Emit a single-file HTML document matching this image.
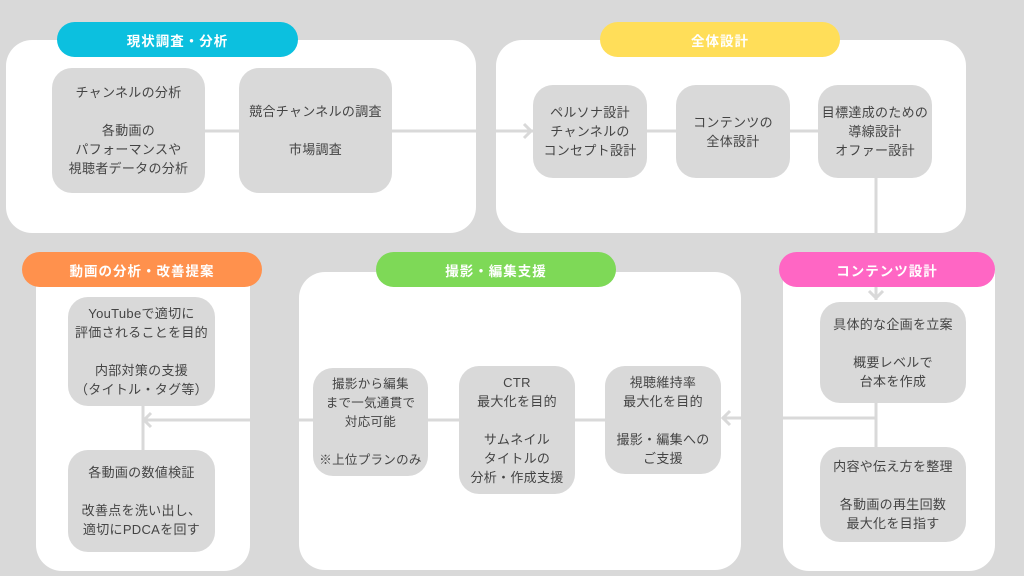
<!DOCTYPE html>
<html><head><meta charset="utf-8"><style>
body{margin:0;width:1024px;height:576px;background:#d9d9d9;position:relative;overflow:hidden;font-family:"Liberation Sans","Noto Sans CJK JP",sans-serif}
.p{position:absolute;background:#fff;border-radius:26px}
.pill{position:absolute;border-radius:18px;color:#fff;font-weight:bold;font-size:13.5px;display:flex;align-items:center;justify-content:center;height:35px;letter-spacing:1px}
.b{position:absolute;background:#d9d9d9;border-radius:20px;color:#444;font-size:13px;line-height:19px;text-align:center;display:flex;align-items:center;justify-content:center;letter-spacing:0.3px}
svg{position:absolute;left:0;top:0}
</style></head><body>
<div class="p" style="left:6px;top:40px;width:470px;height:193px"></div>
<div class="p" style="left:496px;top:40px;width:470px;height:193px"></div>
<div class="p" style="left:36px;top:270px;width:214px;height:301px;border-radius:0 0 26px 26px"></div>
<div class="p" style="left:299px;top:272px;width:442px;height:298px"></div>
<div class="p" style="left:783px;top:270px;width:212px;height:301px;border-radius:0 0 26px 26px"></div>
<svg width="1024" height="576"><g stroke="#d9d9d9" stroke-width="3" fill="none">
<line x1="205" y1="131" x2="239" y2="131"/><line x1="392" y1="131" x2="533" y2="131"/>
<polyline points="524,124 531,131 524,138"/>
<line x1="647" y1="131" x2="676" y2="131"/><line x1="790" y1="131" x2="818" y2="131"/>
<line x1="876" y1="178" x2="876" y2="300"/><polyline points="869,291 876,298 883,291"/>
<line x1="876" y1="403" x2="876" y2="447"/><line x1="876" y1="418" x2="722" y2="418"/>
<polyline points="730,411 723,418 730,425"/>
<line x1="575" y1="420" x2="605" y2="420"/><line x1="428" y1="420" x2="459" y2="420"/>
<line x1="313" y1="420" x2="143" y2="420"/><polyline points="151,413 144,420 151,427"/>
<line x1="143" y1="406" x2="143" y2="450"/>
</g></svg>
<div class="pill" style="left:57px;top:22px;width:241px;background:#0cc0df">現状調査・分析</div>
<div class="pill" style="left:600px;top:22px;width:240px;background:#ffde59;color:#fff">全体設計</div>
<div class="pill" style="left:22px;top:252px;width:240px;background:#ff914d">動画の分析・改善提案</div>
<div class="pill" style="left:376px;top:252px;width:240px;background:#7ed957">撮影・編集支援</div>
<div class="pill" style="left:779px;top:252px;width:216px;background:#ff66c4">コンテンツ設計</div>
<div class="b" style="left:52px;top:68px;width:153px;height:125px">チャンネルの分析<br><br>各動画の<br>パフォーマンスや<br>視聴者データの分析</div>
<div class="b" style="left:239px;top:68px;width:153px;height:125px">競合チャンネルの調査<br><br>市場調査</div>
<div class="b" style="left:533px;top:85px;width:114px;height:93px">ペルソナ設計<br>チャンネルの<br>コンセプト設計</div>
<div class="b" style="left:676px;top:85px;width:114px;height:93px">コンテンツの<br>全体設計</div>
<div class="b" style="left:818px;top:85px;width:114px;height:93px">目標達成のための<br>導線設計<br>オファー設計</div>
<div class="b" style="left:820px;top:302px;width:146px;height:101px">具体的な企画を立案<br><br>概要レベルで<br>台本を作成</div>
<div class="b" style="left:820px;top:447px;width:146px;height:95px">内容や伝え方を整理<br><br>各動画の再生回数<br>最大化を目指す</div>
<div class="b" style="left:605px;top:366px;width:116px;height:108px">視聴維持率<br>最大化を目的<br><br>撮影・編集への<br>ご支援</div>
<div class="b" style="left:459px;top:366px;width:116px;height:128px">CTR<br>最大化を目的<br><br>サムネイル<br>タイトルの<br>分析・作成支援</div>
<div class="b" style="left:313px;top:368px;width:115px;height:108px;font-size:12.5px">撮影から編集<br>まで一気通貫で<br>対応可能<br><br>※上位プランのみ</div>
<div class="b" style="left:68px;top:297px;width:147px;height:109px">YouTubeで適切に<br>評価されることを目的<br><br>内部対策の支援<br>（タイトル・タグ等）</div>
<div class="b" style="left:68px;top:450px;width:147px;height:102px">各動画の数値検証<br><br>改善点を洗い出し、<br>適切にPDCAを回す</div>
</body></html>
